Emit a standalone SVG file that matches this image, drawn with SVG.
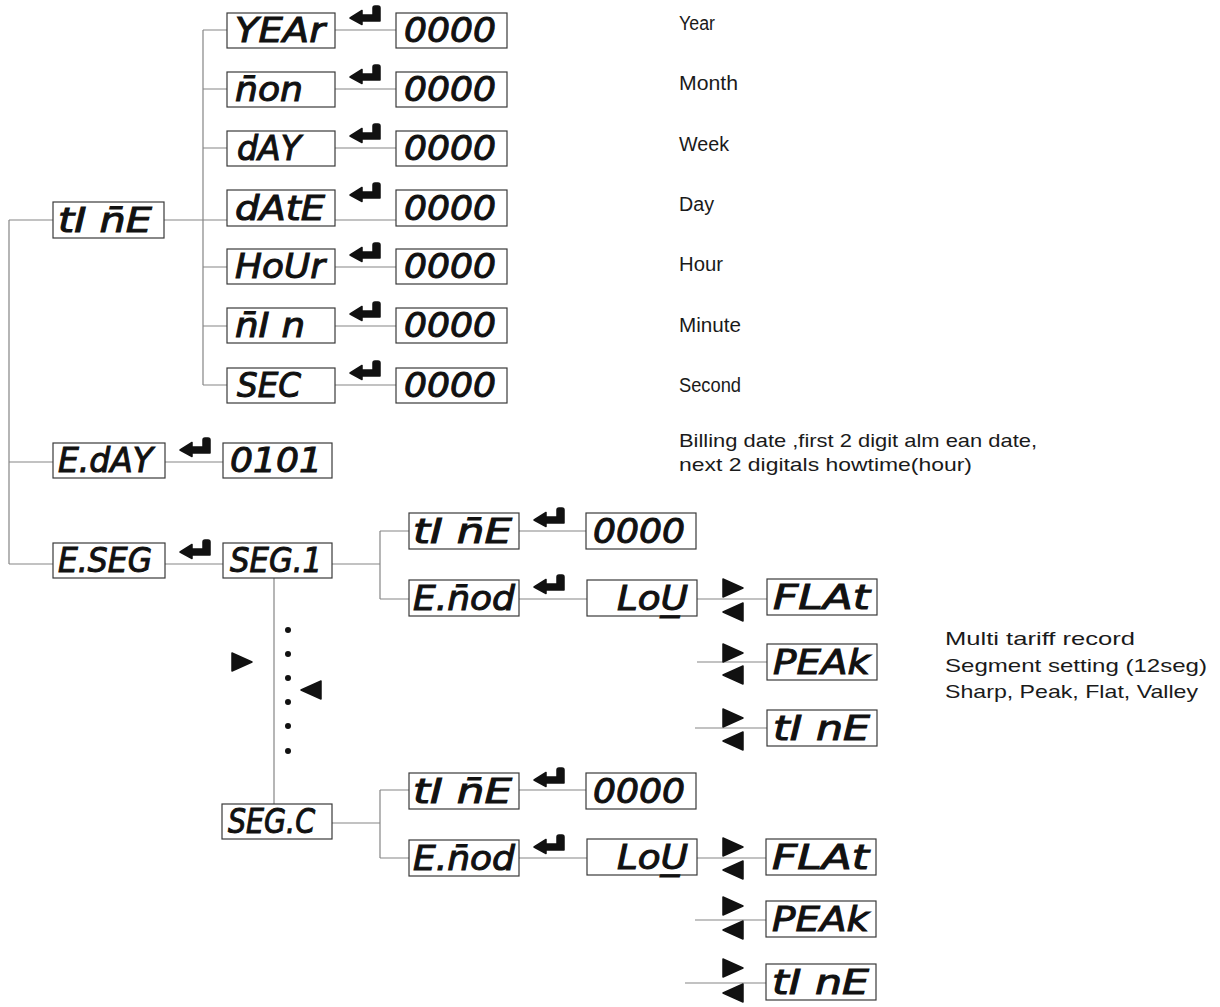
<svg xmlns="http://www.w3.org/2000/svg" xmlns:xlink="http://www.w3.org/1999/xlink" width="1220" height="1007" viewBox="0 0 1220 1007">
<style>
.bx{fill:#fff;stroke:#3a3a3a;stroke-width:1.2}
.seg{font-family:"DejaVu Sans","Liberation Sans",sans-serif;font-weight:normal;font-style:italic;font-size:33px;fill:#111;stroke:#111;stroke-width:1}
.cn{fill:none;stroke:#858585;stroke-width:1.2}
.lbl{font-family:"Liberation Sans","DejaVu Sans",sans-serif;font-size:20px;fill:#1a1a1a}
.lbs{font-family:"Liberation Sans","DejaVu Sans",sans-serif;font-size:19px;fill:#1a1a1a}
.ink{fill:#111;stroke:#111;stroke-width:1.5;stroke-linejoin:round}
</style>
<defs>
<path id="enter" d="M0,12 L12,4.5 L12,9 L23,9 L23,2 Q23,0 25,0 L28,0 Q30,0 30,2 L30,15 L12,15 L12,18.5 Z"/>
<path id="tr" d="M1,1 L21,10 L1,19 Z"/>
<path id="tl" d="M21,1 L1,10 L21,19 Z"/>
</defs>
<rect width="1220" height="1007" fill="#fff"/>

<g id="connectors" class="cn">
<path d="M9,220 V564 M9,220 H53 M9,462 H53 M9,564 H53"/>
<path d="M164,220 H203 M203,30 V385"/>
<path d="M203,30 H227 M335,30 H396"/>
<path d="M203,89 H227 M335,89 H396"/>
<path d="M203,148 H227 M335,148 H396"/>
<path d="M203,220 H227 M335,220 H396"/>
<path d="M203,267 H227 M335,267 H396"/>
<path d="M203,326 H227 M335,326 H396"/>
<path d="M203,385 H227 M335,385 H396"/>
<path d="M165,462 H223 M165,564 H223"/>
<path d="M332,564 H380 M380,531 V599 M380,531 H409 M380,599 H409"/>
<path d="M519,531 H586 M519,599 H587 M697,599 H767 M697,662 H767 M695,728 H767"/>
<path d="M274,578 V804"/>
<path d="M332,823 H380 M380,790 V858 M380,790 H409 M380,858 H409"/>
<path d="M519,790 H586 M519,858 H587 M697,858 H766 M695,920 H766 M685,983 H766"/>
</g>

<g id="enter-arrows" class="ink">
<use href="#enter" x="350" y="6"/>
<use href="#enter" x="350" y="65"/>
<use href="#enter" x="350" y="124"/>
<use href="#enter" x="350" y="183"/>
<use href="#enter" x="350" y="243"/>
<use href="#enter" x="350" y="302"/>
<use href="#enter" x="350" y="361"/>
<use href="#enter" x="180" y="438"/>
<use href="#enter" x="180" y="540"/>
<use href="#enter" x="534" y="508"/>
<use href="#enter" x="534" y="575"/>
<use href="#enter" x="534" y="768"/>
<use href="#enter" x="534" y="835"/>
</g>

<g id="nav-triangles" class="ink">
<use href="#tr" x="722" y="578"/><use href="#tl" x="722" y="602"/>
<use href="#tr" x="722" y="643"/><use href="#tl" x="722" y="665"/>
<use href="#tr" x="722" y="708"/><use href="#tl" x="722" y="731"/>
<use href="#tr" x="722" y="837"/><use href="#tl" x="722" y="860"/>
<use href="#tr" x="722" y="896"/><use href="#tl" x="722" y="920"/>
<use href="#tr" x="722" y="958"/><use href="#tl" x="722" y="983"/>
<use href="#tr" x="231" y="652"/><use href="#tl" x="300" y="680"/>
</g>

<g id="dots" fill="#111">
<circle cx="288" cy="630" r="3"/><circle cx="288" cy="654" r="3"/><circle cx="288" cy="678" r="3"/>
<circle cx="288" cy="702" r="3"/><circle cx="288" cy="726" r="3"/><circle cx="288" cy="751" r="3"/>
</g>

<g id="n-time"><rect class="bx" x="53" y="202" width="111" height="36"/><text class="seg" x="58" y="232" textLength="94" lengthAdjust="spacingAndGlyphs">tI n&#x304;E</text></g>
<g id="n-eday"><rect class="bx" x="53" y="443" width="112" height="35"/><text class="seg" x="58" y="472" textLength="95" lengthAdjust="spacingAndGlyphs">E.dAY</text></g>
<g id="n-eseg"><rect class="bx" x="53" y="543" width="112" height="35"/><text class="seg" x="58" y="572" textLength="94" lengthAdjust="spacingAndGlyphs">E.SEG</text></g>

<g id="n-year"><rect class="bx" x="227" y="13" width="108" height="35"/><text class="seg" x="235" y="42" textLength="90" lengthAdjust="spacingAndGlyphs">YEAr</text></g>
<g id="n-mon"><rect class="bx" x="227" y="72" width="108" height="35"/><text class="seg" x="235" y="101" textLength="68" lengthAdjust="spacingAndGlyphs">n&#x304;on</text></g>
<g id="n-day"><rect class="bx" x="227" y="131" width="108" height="35"/><text class="seg" x="237" y="160" textLength="64" lengthAdjust="spacingAndGlyphs">dAY</text></g>
<g id="n-date"><rect class="bx" x="227" y="190" width="108" height="36"/><text class="seg" x="235" y="220" textLength="90" lengthAdjust="spacingAndGlyphs">dAtE</text></g>
<g id="n-hour"><rect class="bx" x="227" y="249" width="108" height="35"/><text class="seg" x="235" y="278" textLength="90" lengthAdjust="spacingAndGlyphs">HoUr</text></g>
<g id="n-min"><rect class="bx" x="227" y="308" width="108" height="35"/><text class="seg" x="235" y="337" textLength="70" lengthAdjust="spacingAndGlyphs">n&#x304;I n</text></g>
<g id="n-sec"><rect class="bx" x="227" y="368" width="108" height="35"/><text class="seg" x="237" y="397" textLength="64" lengthAdjust="spacingAndGlyphs">SEC</text></g>

<g id="v-year"><rect class="bx" x="396" y="13" width="111" height="35"/><text class="seg" x="404" y="42" textLength="92" lengthAdjust="spacingAndGlyphs">0000</text></g>
<g id="v-mon"><rect class="bx" x="396" y="72" width="111" height="35"/><text class="seg" x="404" y="101" textLength="92" lengthAdjust="spacingAndGlyphs">0000</text></g>
<g id="v-day"><rect class="bx" x="396" y="131" width="111" height="35"/><text class="seg" x="404" y="160" textLength="92" lengthAdjust="spacingAndGlyphs">0000</text></g>
<g id="v-date"><rect class="bx" x="396" y="190" width="111" height="36"/><text class="seg" x="404" y="220" textLength="92" lengthAdjust="spacingAndGlyphs">0000</text></g>
<g id="v-hour"><rect class="bx" x="396" y="249" width="111" height="35"/><text class="seg" x="404" y="278" textLength="92" lengthAdjust="spacingAndGlyphs">0000</text></g>
<g id="v-min"><rect class="bx" x="396" y="308" width="111" height="35"/><text class="seg" x="404" y="337" textLength="92" lengthAdjust="spacingAndGlyphs">0000</text></g>
<g id="v-sec"><rect class="bx" x="396" y="368" width="111" height="35"/><text class="seg" x="404" y="397" textLength="92" lengthAdjust="spacingAndGlyphs">0000</text></g>

<g id="v-eday"><rect class="bx" x="223" y="443" width="109" height="35"/><text class="seg" x="230" y="472" textLength="92" lengthAdjust="spacingAndGlyphs">0101</text></g>
<g id="n-seg1"><rect class="bx" x="223" y="543" width="109" height="35"/><text class="seg" x="230" y="572" textLength="92" lengthAdjust="spacingAndGlyphs">SEG.1</text></g>
<g id="n-segc"><rect class="bx" x="222" y="804" width="110" height="35"/><text class="seg" x="228" y="833" textLength="87" lengthAdjust="spacingAndGlyphs">SEG.C</text></g>

<g id="s1-time"><rect class="bx" x="409" y="513" width="110" height="36"/><text class="seg" x="413" y="543" textLength="99" lengthAdjust="spacingAndGlyphs">tI n&#x304;E</text></g>
<g id="s1-val"><rect class="bx" x="586" y="513" width="110" height="36"/><text class="seg" x="593" y="543" textLength="92" lengthAdjust="spacingAndGlyphs">0000</text></g>
<g id="s1-mod"><rect class="bx" x="409" y="580" width="110" height="36"/><text class="seg" x="413" y="610" textLength="102" lengthAdjust="spacingAndGlyphs">E.n&#x304;od</text></g>
<g id="s1-low"><rect class="bx" x="587" y="580" width="110" height="36"/><text class="seg" x="617" y="610" textLength="71" lengthAdjust="spacingAndGlyphs">LoU&#x332;</text></g>
<g id="s1-flat"><rect class="bx" x="767" y="579" width="110" height="36"/><text class="seg" x="773" y="609" textLength="97" lengthAdjust="spacingAndGlyphs">FLAt</text></g>
<g id="s1-peak"><rect class="bx" x="767" y="644" width="110" height="36"/><text class="seg" x="773" y="674" textLength="97" lengthAdjust="spacingAndGlyphs">PEAk</text></g>
<g id="s1-tine"><rect class="bx" x="767" y="710" width="110" height="36"/><text class="seg" x="773" y="740" textLength="97" lengthAdjust="spacingAndGlyphs">tI nE</text></g>

<g id="s2-time"><rect class="bx" x="409" y="773" width="110" height="36"/><text class="seg" x="413" y="803" textLength="99" lengthAdjust="spacingAndGlyphs">tI n&#x304;E</text></g>
<g id="s2-val"><rect class="bx" x="586" y="773" width="110" height="36"/><text class="seg" x="593" y="803" textLength="92" lengthAdjust="spacingAndGlyphs">0000</text></g>
<g id="s2-mod"><rect class="bx" x="409" y="840" width="110" height="36"/><text class="seg" x="413" y="870" textLength="102" lengthAdjust="spacingAndGlyphs">E.n&#x304;od</text></g>
<g id="s2-low"><rect class="bx" x="587" y="839" width="110" height="36"/><text class="seg" x="617" y="869" textLength="71" lengthAdjust="spacingAndGlyphs">LoU&#x332;</text></g>
<g id="s2-flat"><rect class="bx" x="766" y="839" width="110" height="36"/><text class="seg" x="772" y="869" textLength="97" lengthAdjust="spacingAndGlyphs">FLAt</text></g>
<g id="s2-peak"><rect class="bx" x="766" y="901" width="110" height="36"/><text class="seg" x="772" y="931" textLength="97" lengthAdjust="spacingAndGlyphs">PEAk</text></g>
<g id="s2-tine"><rect class="bx" x="766" y="964" width="110" height="36"/><text class="seg" x="772" y="994" textLength="97" lengthAdjust="spacingAndGlyphs">tI nE</text></g>

<g id="labels">
<text class="lbl" x="679" y="30" textLength="36" lengthAdjust="spacingAndGlyphs">Year</text>
<text class="lbl" x="679" y="90" textLength="59" lengthAdjust="spacingAndGlyphs">Month</text>
<text class="lbl" x="679" y="151" textLength="50" lengthAdjust="spacingAndGlyphs">Week</text>
<text class="lbl" x="679" y="211" textLength="35" lengthAdjust="spacingAndGlyphs">Day</text>
<text class="lbl" x="679" y="271" textLength="44" lengthAdjust="spacingAndGlyphs">Hour</text>
<text class="lbl" x="679" y="332" textLength="62" lengthAdjust="spacingAndGlyphs">Minute</text>
<text class="lbl" x="679" y="392" textLength="62" lengthAdjust="spacingAndGlyphs">Second</text>
<text class="lbs" x="679" y="447" textLength="358" lengthAdjust="spacingAndGlyphs">Billing date ,first 2 digit alm ean date,</text>
<text class="lbs" x="679" y="471" textLength="293" lengthAdjust="spacingAndGlyphs">next 2 digitals howtime(hour)</text>
<text class="lbs" x="945" y="645" textLength="190" lengthAdjust="spacingAndGlyphs">Multi tariff record</text>
<text class="lbs" x="945" y="672" textLength="262" lengthAdjust="spacingAndGlyphs">Segment  setting (12seg)</text>
<text class="lbs" x="945" y="698" textLength="253" lengthAdjust="spacingAndGlyphs">Sharp, Peak, Flat, Valley</text>
</g>
</svg>
